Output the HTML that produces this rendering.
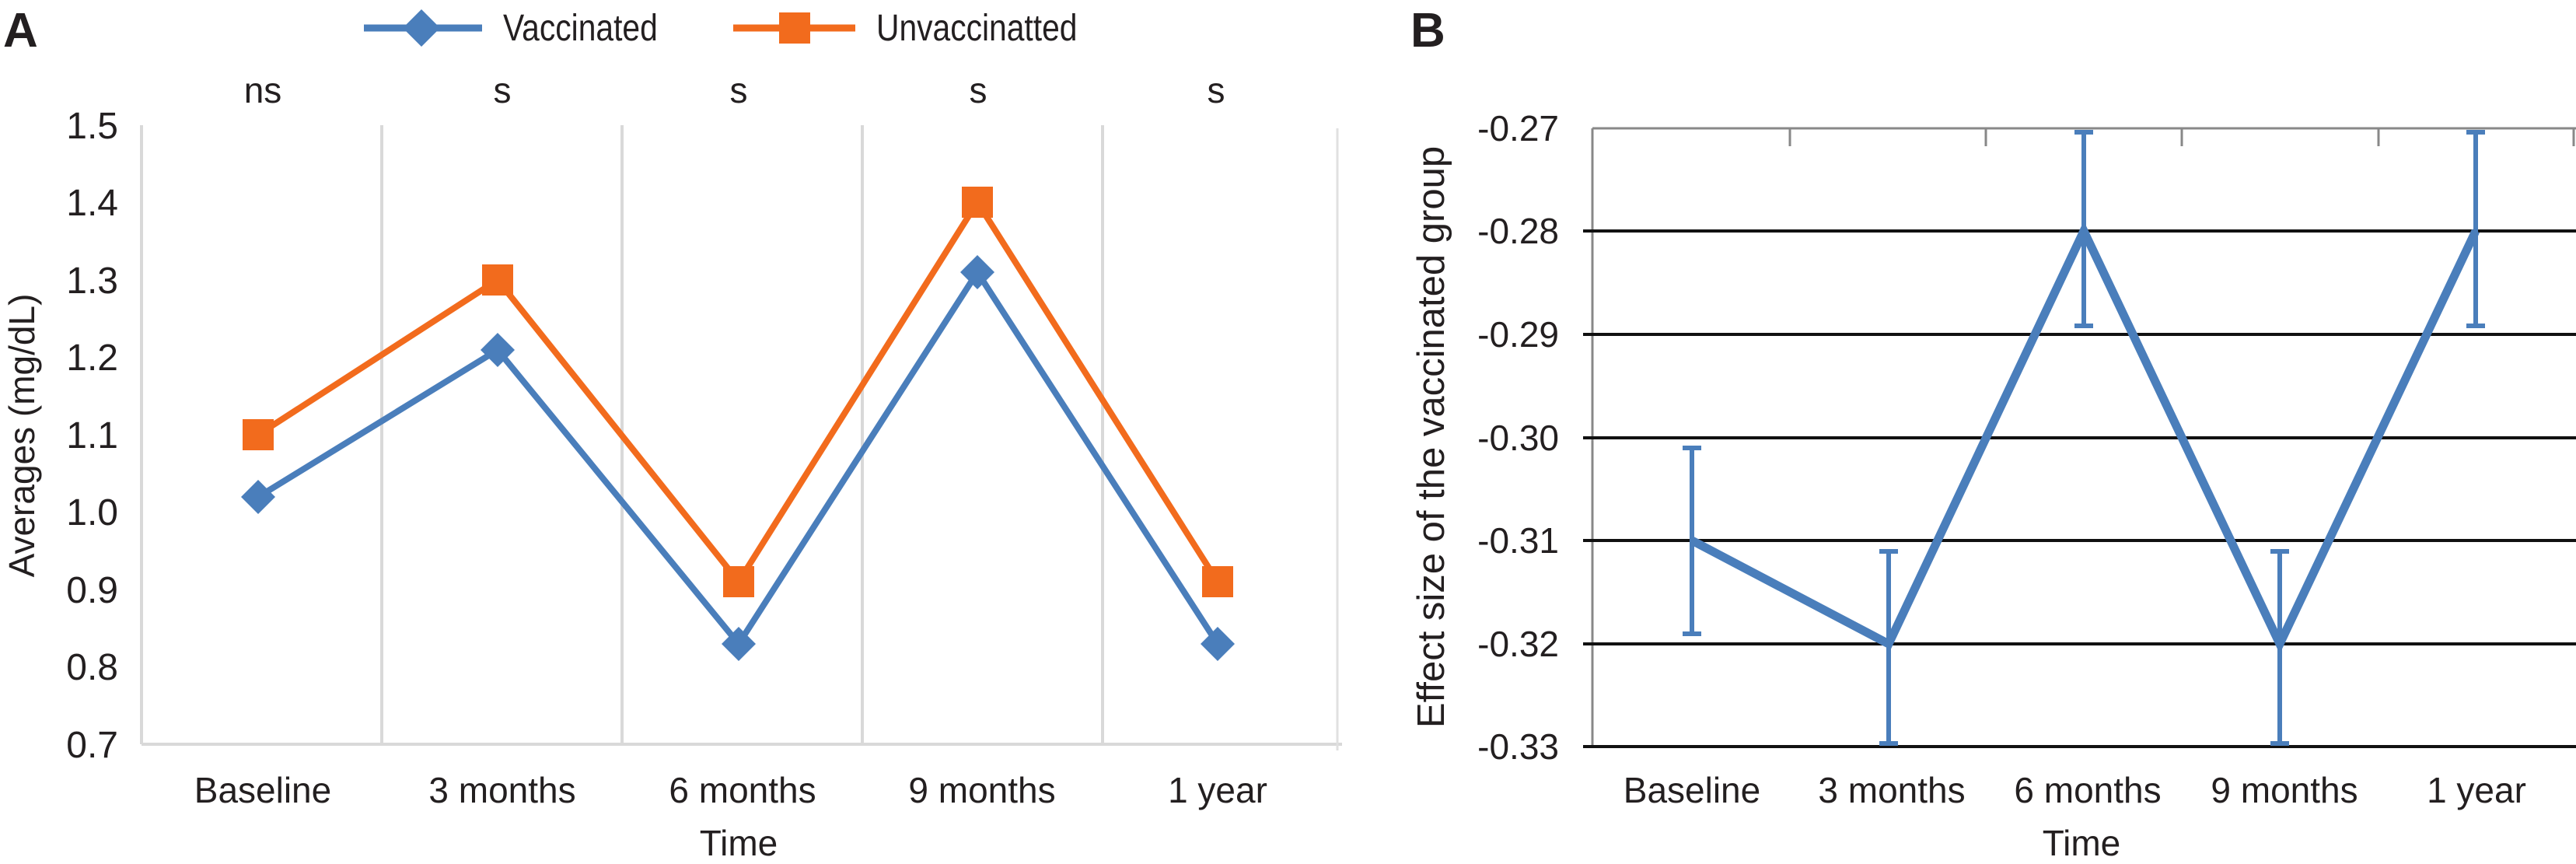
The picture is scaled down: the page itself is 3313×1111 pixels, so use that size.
<!DOCTYPE html>
<html><head><meta charset="utf-8"><style>
html,body{margin:0;padding:0;background:#fff}
svg{display:block}
text{font-family:"Liberation Sans",sans-serif;fill:#231f20}
</style></head><body>
<svg width="3313" height="1111" viewBox="0 0 3313 1111" xmlns="http://www.w3.org/2000/svg">
<!-- Panel A -->
<text x="4" y="60" font-size="62" font-weight="bold">A</text>
<line x1="468" y1="36" x2="620" y2="36" stroke="#4a7ebb" stroke-width="9"/>
<polygon points="542,12 566,36 542,60 518,36" fill="#4a7ebb"/>
<text x="647" y="52" font-size="48" transform="translate(647,0) scale(0.85,1) translate(-647,0)">Vaccinated</text>
<line x1="943" y1="36" x2="1100" y2="36" stroke="#f26b1d" stroke-width="9"/>
<rect x="1002" y="16" width="40" height="40" fill="#f26b1d"/>
<text x="1127" y="52" font-size="48" transform="translate(1127,0) scale(0.85,1) translate(-1127,0)">Unvaccinatted</text>
<g font-size="46" text-anchor="middle">
<text x="338" y="132">ns</text><text x="646" y="132">s</text><text x="950" y="132">s</text><text x="1258" y="132">s</text><text x="1564" y="132">s</text>
</g>
<g stroke="#d9d9d9" stroke-width="4">
<line x1="182" y1="161" x2="182" y2="957"/>
<line x1="491" y1="161" x2="491" y2="957"/>
<line x1="800" y1="161" x2="800" y2="957"/>
<line x1="1109" y1="161" x2="1109" y2="957"/>
<line x1="1418" y1="161" x2="1418" y2="957"/>
<line x1="182" y1="957" x2="1726" y2="957"/>
</g>
<g font-size="48" text-anchor="end">
<text x="152" y="178">1.5</text><text x="152" y="277">1.4</text><text x="152" y="377">1.3</text><text x="152" y="476">1.2</text><text x="152" y="576">1.1</text><text x="152" y="675">1.0</text><text x="152" y="775">0.9</text><text x="152" y="874">0.8</text><text x="152" y="974">0.7</text>
</g>
<text font-size="46" text-anchor="middle" transform="translate(44,560) rotate(-90)">Averages (mg/dL)</text>
<g font-size="46" text-anchor="middle">
<text x="338" y="1032">Baseline</text><text x="646" y="1032">3 months</text><text x="955" y="1032">6 months</text><text x="1263" y="1032">9 months</text><text x="1566" y="1032">1 year</text>
<text x="950" y="1100">Time</text>
</g>
<polyline points="332,559 640,360 950,748 1257,260 1566,748" fill="none" stroke="#f26b1d" stroke-width="8"/>
<polyline points="332,639 640,450 950,828 1257,350 1566,828" fill="none" stroke="#4a7ebb" stroke-width="8"/>
<g fill="#f26b1d">
<rect x="312" y="539" width="40" height="40"/><rect x="620" y="340" width="40" height="40"/><rect x="930" y="728" width="40" height="40"/><rect x="1237" y="240" width="40" height="40"/><rect x="1546" y="728" width="40" height="40"/>
</g>
<g fill="#4a7ebb">
<polygon points="332,617 354,639 332,661 310,639"/><polygon points="640,428 662,450 640,472 618,450"/><polygon points="950,806 972,828 950,850 928,828"/><polygon points="1257,328 1279,350 1257,372 1235,350"/><polygon points="1566,806 1588,828 1566,850 1544,828"/>
</g>

<!-- Panel B -->
<text x="1814" y="60" font-size="62" font-weight="bold">B</text>
<line x1="1720" y1="165" x2="1720" y2="965" stroke="#e0e0e0" stroke-width="3"/>
<line x1="2048" y1="165" x2="3313" y2="165" stroke="#888" stroke-width="3"/>
<line x1="2048" y1="165" x2="2048" y2="958" stroke="#888" stroke-width="3"/>
<g stroke="#888" stroke-width="3">
<line x1="2302" y1="165" x2="2302" y2="188"/><line x1="2554" y1="165" x2="2554" y2="188"/><line x1="2806" y1="165" x2="2806" y2="188"/><line x1="3059" y1="165" x2="3059" y2="188"/><line x1="3310" y1="165" x2="3310" y2="188"/>
</g>
<g stroke="#111" stroke-width="4">
<line x1="2036" y1="297" x2="3313" y2="297"/><line x1="2036" y1="430" x2="3313" y2="430"/><line x1="2036" y1="563" x2="3313" y2="563"/><line x1="2036" y1="695" x2="3313" y2="695"/><line x1="2036" y1="828" x2="3313" y2="828"/><line x1="2036" y1="960" x2="3313" y2="960"/>
</g>
<g font-size="46" text-anchor="end">
<text x="2005" y="181">-0.27</text><text x="2005" y="313">-0.28</text><text x="2005" y="446">-0.29</text><text x="2005" y="579">-0.30</text><text x="2005" y="711">-0.31</text><text x="2005" y="844">-0.32</text><text x="2005" y="976">-0.33</text>
</g>
<text font-size="49" text-anchor="middle" transform="translate(1857,562) rotate(-90)">Effect size of the vaccinated group</text>
<g font-size="46" text-anchor="middle">
<text x="2176" y="1032">Baseline</text><text x="2433" y="1032">3 months</text><text x="2685" y="1032">6 months</text><text x="2938" y="1032">9 months</text><text x="3185" y="1032">1 year</text>
<text x="2677" y="1100">Time</text>
</g>
<polyline points="2176,695 2429,828 2680,297 2932,828 3184,297" fill="none" stroke="#4a7ebb" stroke-width="11" stroke-linejoin="miter"/>
<g stroke="#4a7ebb" stroke-width="6">
<line x1="2176" y1="576" x2="2176" y2="815"/><line x1="2164" y1="576" x2="2188" y2="576"/><line x1="2164" y1="815" x2="2188" y2="815"/>
<line x1="2429" y1="709" x2="2429" y2="956"/><line x1="2417" y1="709" x2="2441" y2="709"/><line x1="2417" y1="956" x2="2441" y2="956"/>
<line x1="2680" y1="170" x2="2680" y2="419"/><line x1="2668" y1="170" x2="2692" y2="170"/><line x1="2668" y1="419" x2="2692" y2="419"/>
<line x1="2932" y1="709" x2="2932" y2="956"/><line x1="2920" y1="709" x2="2944" y2="709"/><line x1="2920" y1="956" x2="2944" y2="956"/>
<line x1="3184" y1="170" x2="3184" y2="419"/><line x1="3172" y1="170" x2="3196" y2="170"/><line x1="3172" y1="419" x2="3196" y2="419"/>
</g>
</svg>
</body></html>
